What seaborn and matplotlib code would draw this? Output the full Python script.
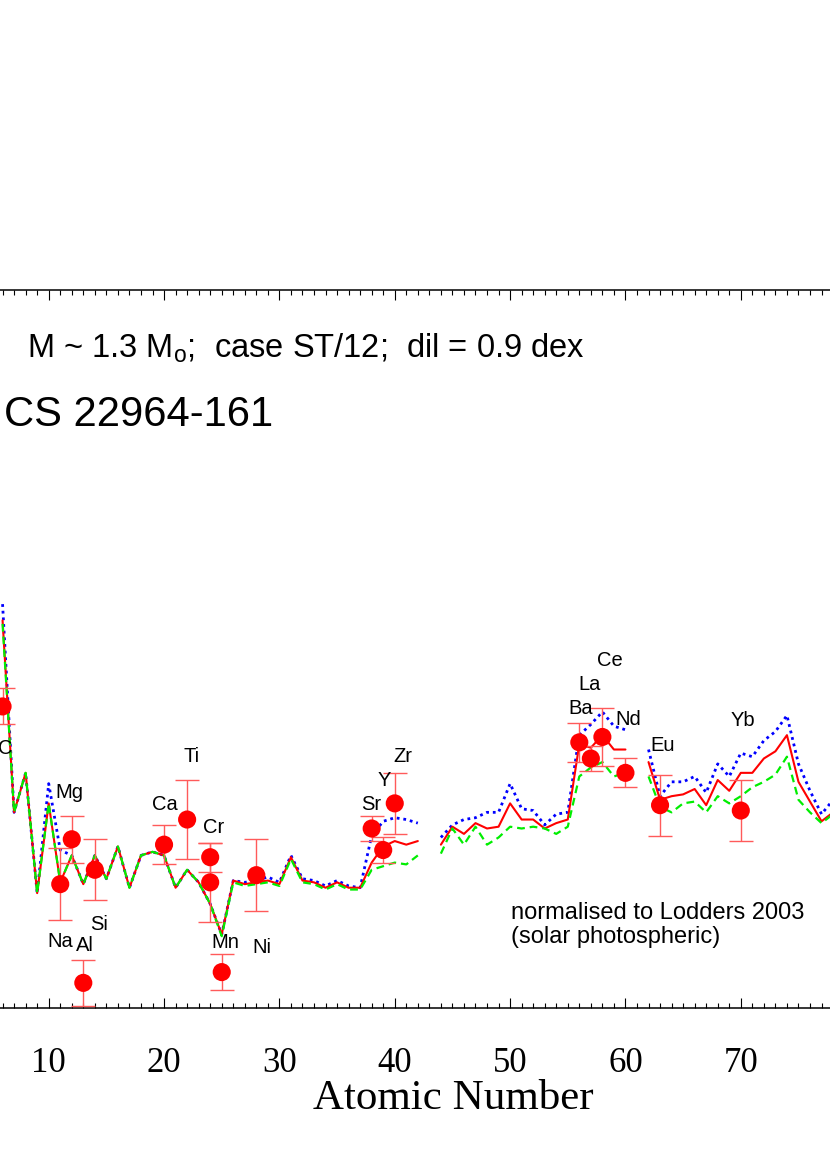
import numpy as np
import pandas as pd
import matplotlib
matplotlib.use("Agg")
import matplotlib.pyplot as plt
import seaborn as sns

nan = np.nan

# model abundances (Z = 6..78), gaps where no model value is drawn
z_model = list(range(6, 79))
red_model = [1.16, 0.09, 0.31, -0.36, 0.14, -0.30, -0.15, -0.31, -0.15, -0.28,
             -0.10, -0.33, -0.15, -0.13, -0.15, -0.33, -0.23, -0.30, -0.42, -0.59,
             -0.29, -0.31, -0.30, -0.29, -0.31, -0.16, -0.29, -0.30, -0.33, -0.30,
             -0.33, -0.33, -0.19, -0.10, -0.07, -0.09, -0.07, nan, -0.09, 0.01,
             -0.03, 0.03, 0.00, 0.01, 0.14, 0.05, 0.05, 0.00, 0.03, 0.05,
             0.47, 0.45, 0.52, 0.44, 0.44, nan, 0.37, 0.16, 0.18, 0.19,
             0.22, 0.13, 0.27, 0.21, 0.31, 0.31, 0.39, 0.43, 0.52, 0.26,
             0.15, 0.04, 0.09]
blue_model = [1.25, 0.09, 0.31, -0.36, 0.25, -0.12, -0.15, -0.31, -0.15, -0.28,
              -0.10, -0.33, -0.15, -0.13, -0.15, -0.33, -0.23, -0.30, -0.42, -0.59,
              -0.29, -0.30, -0.29, -0.27, -0.30, -0.15, -0.28, -0.29, -0.32, -0.29,
              -0.32, -0.33, -0.04, 0.04, 0.06, 0.05, 0.03, nan, -0.05, 0.02,
              0.05, 0.06, 0.09, 0.09, 0.25, 0.11, 0.10, 0.02, 0.08, 0.09,
              0.52, 0.58, 0.65, 0.57, 0.55, nan, 0.44, 0.18, 0.26, 0.26,
              0.29, 0.20, 0.36, 0.29, 0.42, 0.40, 0.49, 0.54, 0.63, 0.36,
              0.21, 0.08, 0.16]
green_model = [1.14, 0.09, 0.31, -0.36, 0.14, -0.30, -0.15, -0.31, -0.15, -0.28,
               -0.10, -0.33, -0.15, -0.13, -0.15, -0.33, -0.23, -0.30, -0.42, -0.60,
               -0.30, -0.32, -0.31, -0.30, -0.32, -0.17, -0.30, -0.31, -0.34, -0.31,
               -0.34, -0.34, -0.23, -0.21, -0.19, -0.20, -0.15, nan, -0.14, 0.00,
               -0.09, 0.01, -0.09, -0.05, 0.01, 0.00, 0.01, 0.00, -0.03, 0.01,
               0.29, 0.34, 0.37, 0.29, 0.31, nan, 0.29, 0.12, 0.09, 0.14,
               0.15, 0.09, 0.18, 0.14, 0.18, 0.23, 0.26, 0.30, 0.40, 0.16,
               0.09, 0.03, 0.08]

# observed abundances of CS 22964-161
obs_el = ['C', 'Na', 'Mg', 'Al', 'Si', 'Ca', 'Ti', 'Cr', 'Cr', 'Mn', 'Ni',
          'Sr', 'Y', 'Zr', 'Ba', 'La', 'Ce', 'Nd', 'Eu', 'Yb']
obs_z = [6, 11, 12, 13, 14, 20, 22, 24, 24, 25, 28, 38, 39, 40, 56, 57, 58, 60, 63, 70]
obs_val = [0.68, -0.31, -0.06, -0.86, -0.23, -0.09, 0.05, -0.16, -0.30, -0.80, -0.26,
           0.00, -0.12, 0.14, 0.48, 0.39, 0.51, 0.31, 0.13, 0.10]
obs_err = [0.10, 0.20, 0.13, 0.13, 0.17, 0.11, 0.22, 0.08, 0.22, 0.10, 0.20,
           0.07, 0.07, 0.17, 0.11, 0.07, 0.16, 0.08, 0.17, 0.17]

# label offsets from the point, in pixels
label_offset = {'C': (3, -42), 'Na': (0, -57), 'Mg': (-2, 47), 'Al': (2, 37),
                'Si': (4, -55), 'Ca': (1, 40), 'Ti': (4, 63), 'Cr': (3, 30),
                'Mn': (4, 30), 'Ni': (6, -72), 'Sr': (0, 24), 'Y': (1, 70),
                'Zr': (8, 47), 'Ba': (1, 34), 'La': (-1, 74), 'Ce': (7, 76),
                'Nd': (3, 53), 'Eu': (3, 60), 'Yb': (2, 90)}

models = pd.DataFrame({'Z': z_model, 'red': red_model, 'blue': blue_model, 'green': green_model})
models['seg'] = models['red'].isna().cumsum()
obs = pd.DataFrame({'el': obs_el, 'Z': obs_z, 'val': obs_val, 'err': obs_err})

sns.set_style("ticks")
plt.rcParams['font.family'] = ['Liberation Sans', 'DejaVu Sans']
plt.rcParams['mathtext.fontset'] = 'custom'
plt.rcParams['mathtext.rm'] = 'Liberation Sans'
plt.rcParams['mathtext.it'] = 'Liberation Sans:italic'
plt.rcParams['text.color'] = 'black'
plt.rcParams['axes.labelcolor'] = 'black'
plt.rcParams['xtick.color'] = 'black'
plt.rcParams['axes.edgecolor'] = 'black'

fig = plt.figure(figsize=(8.3, 11.7), dpi=100)
ax = fig.add_axes([0, 162 / 1170, 1, 718 / 1170])

styles = [('blue', '#0000ff', (0, (1, 1.4)), 2.0),
          ('red', '#ff0000', '-', 1.5),
          ('green', '#00ee00', (0, (3.5, 2.2)), 1.6)]
for col, c, ls, lw in styles:
    d = models.dropna(subset=[col])
    sns.lineplot(data=d, x='Z', y=col, units='seg', estimator=None, ax=ax,
                 color=c, linestyle=ls, lw=lw, zorder=2)

ax.errorbar(obs['Z'], obs['val'], yerr=obs['err'], fmt='none', ecolor='#ff5a5a',
            elinewidth=1.0, capsize=8.5, capthick=1.0, zorder=3)
sns.scatterplot(data=obs, x='Z', y='val', ax=ax, color='#ff0000', s=170,
                edgecolor='none', zorder=4)

seen = set()
for el, z, v in zip(obs_el, obs_z, obs_val):
    if el in seen:
        continue
    seen.add(el)
    dx, dy = label_offset[el]
    ax.annotate(el, (z, v), xytext=(dx, dy), textcoords='offset pixels',
                ha='center', va='center', fontsize=14.5, color='black')

ax.set_xlim(10 - 48.7 / 11.535, 10 + 781.3 / 11.535)
ax.set_ylim(-1.0, 3.0)
ax.set_xticks(range(10, 80, 10))
ax.set_xticks(range(6, 78), minor=True)
ax.set_yticks([])
ax.set_xlabel("Atomic Number", family='Liberation Serif', fontsize=31, labelpad=0,
              color='black')
ax.xaxis.label.set_x(453 / 830)
ax.set_ylabel("")
ax.tick_params(axis='x', which='both', direction='in', top=True, bottom=True,
               width=0.8, colors='black')
ax.tick_params(axis='x', which='major', length=7.2, pad=28)
ax.tick_params(axis='x', which='minor', length=3.6)
for lab in ax.get_xticklabels():
    lab.set_family('Liberation Serif')
    lab.set_fontsize(25)
for side in ['left', 'right']:
    ax.spines[side].set_visible(False)
for side in ['top', 'bottom']:
    ax.spines[side].set_linewidth(1.1)
    ax.spines[side].set_color('black')

fig.text(27 / 830, 1 - 358 / 1170, r"M ~ 1.3 M$_{\mathrm{o}}$;  case ST/12;  dil = 0.9 dex",
         fontsize=23.5, ha='left', va='baseline')
fig.text(4 / 830, 1 - 426.5 / 1170, "CS 22964-161", fontsize=30, ha='left', va='baseline')
fig.text(511 / 830, 1 - 913 / 1170, "normalised to Lodders 2003", fontsize=17,
         ha='left', va='center')
fig.text(511 / 830, 1 - 937 / 1170, "(solar photospheric)", fontsize=17,
         ha='left', va='center')

fig.savefig("out.png", dpi=100)
